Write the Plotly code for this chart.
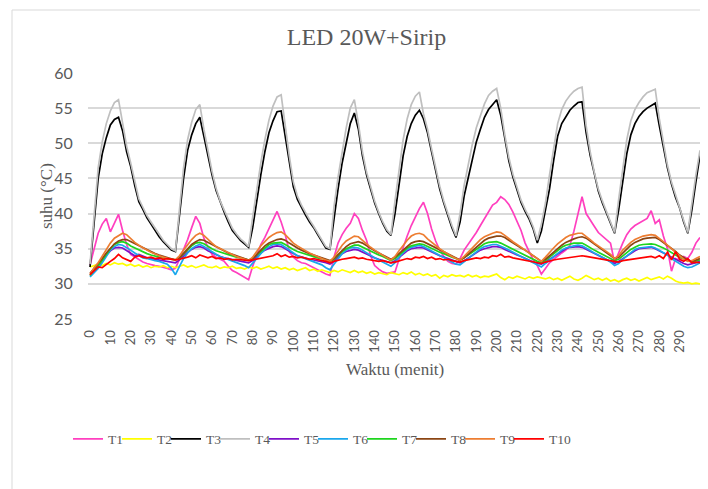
import plotly.graph_objects as go

minutes = list(range(0, 301, 2))
tick_vals = list(range(0, 291, 10))
tick_text = [str(v) for v in tick_vals]
series_names = ["T1", "T2", "T3", "T4", "T5", "T6", "T7", "T8", "T9", "T10"]

T1 = [32.7, 35.0, 37.2, 38.5, 39.3, 37.4, 38.6, 39.9, 37.6, 35.6,
      34.2, 33.8, 33.4, 33.1, 32.9, 32.7, 32.6, 32.5, 32.4, 32.2,
      32.0, 32.2, 33.5, 34.8, 36.3, 38.0, 39.6, 38.6, 36.5, 35.2,
      34.2, 33.8, 33.5, 33.2, 32.5, 31.9, 31.6, 31.3, 31.0, 30.6,
      32.5, 34.2, 35.6, 36.6, 37.8, 39.1, 40.3, 38.8, 37.0, 34.6,
      33.8, 33.3, 33.0, 32.9, 32.6, 32.2, 31.9, 31.6, 31.4, 31.2,
      33.8, 35.8, 37.0, 37.9, 38.6, 40.0, 39.3, 37.6, 36.2, 34.0,
      32.6, 32.1, 31.7, 31.5, 31.6, 31.7, 33.5, 35.3, 36.8, 38.3,
      39.5, 40.7, 41.6, 40.0, 37.8, 36.1, 34.8, 33.9, 33.2, 32.9,
      32.8, 33.6, 34.8, 35.6, 36.4, 37.3, 38.3, 39.3, 40.2, 41.2,
      41.6, 42.4, 42.0, 41.3, 40.2, 39.0, 37.6, 35.8, 34.5, 33.4,
      32.6, 31.4, 32.2, 33.0, 33.5, 34.0, 34.4, 34.8, 35.4, 37.5,
      40.0, 42.4, 40.0, 39.0, 38.2, 37.3, 36.8, 36.3, 35.8, 33.0,
      34.5, 35.8, 37.0, 37.8, 38.3, 38.6, 39.0, 39.3, 40.4, 38.6,
      39.1, 36.8, 35.0, 31.8, 33.6, 33.4, 33.9, 33.6, 34.5, 35.8,
      36.6]

T2 = [32.4, 32.6, 32.8, 32.6, 32.9, 32.7, 33.0, 32.8, 32.9, 32.6,
      32.8, 32.5, 32.7, 32.4, 32.6, 32.3, 32.5, 32.4, 32.6, 32.3,
      32.5, 32.3, 32.5, 32.7, 32.4, 32.6, 32.3, 32.5, 32.7, 32.4,
      32.3, 32.5, 32.2, 32.4, 32.3, 32.5, 32.2, 32.3, 32.1, 32.4,
      32.2, 32.4, 32.1, 32.3, 32.5, 32.2, 32.4, 32.1, 32.3, 32.0,
      32.2, 31.9, 32.1, 32.3, 31.9, 32.1, 31.8, 32.0, 31.8, 31.6,
      31.9, 31.7, 32.0, 31.8, 31.6, 31.9, 31.6, 31.8, 31.5, 31.7,
      31.4, 31.6, 31.5, 31.3, 31.6, 31.5, 31.3, 31.6, 31.4, 31.7,
      31.3, 31.5, 31.2, 31.4, 31.1, 31.3, 30.8, 31.2, 31.0, 31.3,
      31.1, 31.2, 31.0, 31.3, 31.0, 31.2, 30.9, 31.1, 31.0, 31.2,
      31.4, 30.9, 30.6, 31.0, 30.8, 31.1, 30.9, 30.7, 31.0, 30.8,
      31.0, 30.9, 30.7, 30.9, 30.6, 30.8, 30.5, 30.8, 31.1, 30.7,
      30.5, 30.8, 31.2, 30.9, 30.6, 30.8, 30.5, 30.8, 30.4, 30.6,
      30.3, 30.6, 30.8, 30.5, 30.7, 30.4, 30.6, 30.9, 30.6, 30.8,
      31.0, 30.7, 31.1, 30.8, 30.4, 30.2, 30.1, 30.2, 30.0, 30.1,
      30.0]

T3 = [32.4, 38.5, 45.0, 48.5, 50.8, 52.6, 53.4, 53.7, 51.8, 48.8,
      46.7, 44.0, 41.7, 40.6, 39.4, 38.5, 37.6, 36.7, 36.0, 35.4,
      34.8, 34.6, 40.0, 45.0, 49.0, 51.2, 52.8, 53.7, 51.0, 48.2,
      45.5, 43.3, 41.6, 40.2, 38.8, 37.6, 36.9, 36.2, 35.7, 35.2,
      38.0, 41.9, 45.5, 48.8, 51.5, 53.2, 54.5, 54.6, 51.0, 47.3,
      43.8, 42.0, 40.8, 39.8, 38.8, 38.0, 37.0, 36.0, 35.1, 34.9,
      39.5, 43.5, 47.2, 50.2, 52.8, 54.3, 52.0, 48.2, 45.5, 43.5,
      41.5, 40.0, 38.6, 37.5, 36.9, 40.0, 44.5, 48.2, 51.0, 52.8,
      54.0, 54.7, 53.5, 51.5, 48.8, 46.0, 43.5, 41.5, 39.6, 38.0,
      36.6, 38.8, 42.5, 45.2, 47.8, 50.2, 52.0, 53.7, 54.8, 55.5,
      56.2, 54.0, 50.5, 47.5, 45.2, 43.3, 41.6, 40.3, 39.2, 37.8,
      35.8, 37.5, 40.5, 43.5, 47.5, 51.0, 52.8, 53.8, 54.7, 55.3,
      55.8, 55.9, 51.5, 48.3, 45.5, 43.2, 41.5, 40.0, 38.5, 37.2,
      40.5, 44.5, 48.5, 51.2, 52.8, 53.8, 54.5, 55.0, 55.4, 55.7,
      52.5, 49.5, 46.5, 44.2, 42.3, 40.8, 38.8, 37.2, 40.5, 44.5,
      48.3]

T4 = [32.8, 40.0, 46.5, 50.2, 52.8, 54.6, 55.8, 56.2, 52.8, 49.6,
      47.2, 44.4, 42.1, 40.9, 39.7, 38.8, 37.9, 37.0, 36.2, 35.6,
      35.0, 34.7, 41.0, 46.5, 50.5, 53.0, 54.8, 55.5, 52.0, 48.8,
      46.0, 43.6, 41.8, 40.5, 39.1, 37.9, 37.1, 36.4, 35.9, 35.3,
      39.5, 43.5, 47.2, 50.5, 53.3, 55.3, 56.6, 56.9, 52.2, 48.2,
      44.5, 42.5, 41.2, 40.1, 39.1, 38.2, 37.2, 36.2, 35.3, 35.0,
      41.0, 45.2, 49.0, 52.2, 55.0, 56.2, 52.8, 48.8, 45.9, 43.8,
      41.8, 40.2, 38.8, 37.7, 37.0, 41.8, 46.5, 50.5, 53.5, 55.5,
      56.7, 57.3, 54.2, 52.0, 49.2, 46.4, 43.9, 41.8, 39.9, 38.3,
      36.8, 40.0, 44.0, 47.0, 49.8, 52.2, 54.0, 55.6, 56.8, 57.4,
      57.8, 55.0, 51.2, 48.0, 45.6, 43.6, 41.9, 40.6, 39.5, 38.1,
      36.2, 38.5, 41.5, 45.5, 49.5, 52.8, 54.8, 56.0, 56.8, 57.4,
      57.8, 58.0, 52.5, 48.8, 45.9, 43.5, 41.8, 40.2, 38.7, 37.3,
      42.0, 46.5, 50.5, 53.2, 54.8, 55.8, 56.6, 57.2, 57.5, 57.7,
      53.5, 50.0, 46.9, 44.5, 42.6, 41.0, 39.0, 37.3, 41.5, 45.5,
      49.0]

T5 = [31.2, 31.9, 32.5, 33.3, 34.1, 34.7, 35.1, 35.2, 35.1, 34.7,
      34.3, 34.0, 34.2, 33.9, 33.7, 33.6, 33.5, 33.4, 33.3, 33.2,
      33.1, 33.0, 33.4, 34.0, 34.5, 34.9, 35.2, 35.3, 35.1, 34.7,
      34.4, 34.1, 33.9, 33.7, 33.6, 33.5, 33.4, 33.3, 33.1, 33.0,
      33.3, 33.9, 34.4, 34.8, 35.1, 35.3, 35.4, 35.3, 35.0, 34.6,
      34.3, 34.0, 33.8, 33.6, 33.5, 33.4, 33.3, 33.1, 33.0, 32.8,
      33.2, 33.8, 34.3, 34.6, 34.8, 34.9, 34.8, 34.5, 34.2, 33.9,
      33.7, 33.5, 33.3, 33.1, 33.0, 33.3, 33.8, 34.3, 34.7, 35.0,
      35.1, 35.2, 35.1, 34.8, 34.5, 34.2, 34.0, 33.8, 33.6, 33.4,
      33.2, 33.0, 33.3, 33.7, 34.1, 34.5, 34.8, 35.0, 35.2, 35.3,
      35.3, 35.2, 34.9, 34.6, 34.3, 34.1, 33.9, 33.6, 33.4, 33.1,
      32.9, 32.8, 33.1, 33.5, 33.9, 34.3, 34.7, 35.0, 35.2, 35.3,
      35.3, 35.2, 34.9, 34.6, 34.3, 34.0, 33.7, 33.5, 33.2, 32.9,
      33.2, 33.6, 34.0, 34.4, 34.7, 35.0, 35.1, 35.2, 35.2, 35.0,
      34.7, 34.4, 34.0, 33.7, 33.4, 33.1, 32.9, 32.7, 32.8, 33.0,
      33.2]

T6 = [31.0, 31.6, 32.2, 33.0, 34.0, 34.8, 35.3, 35.6, 35.5, 35.2,
      34.8, 34.4, 34.1, 33.7, 33.6, 33.4, 33.3, 33.2, 33.0, 32.8,
      32.2, 31.3, 32.5, 33.6, 34.4, 35.0, 35.4, 35.6, 35.3, 34.9,
      34.5, 34.2, 33.9, 33.7, 33.5, 33.3, 33.1, 32.9, 32.6, 32.3,
      32.9, 33.6, 34.3, 34.9, 35.3, 35.6, 35.7, 35.6, 35.2, 34.8,
      34.4, 34.0, 33.8, 33.6, 33.4, 33.2, 32.9, 32.7, 32.3, 32.0,
      32.8, 33.6, 34.3, 34.8, 35.1, 35.2, 35.1, 34.8, 34.4, 34.0,
      33.7, 33.4, 33.1, 32.8, 32.5, 33.0, 33.8, 34.4, 34.9, 35.2,
      35.4, 35.5, 35.3, 35.0, 34.6, 34.3, 34.0, 33.7, 33.4, 33.1,
      32.8, 32.7, 33.1, 33.6, 34.1, 34.6, 35.0, 35.3, 35.5, 35.6,
      35.6, 35.4, 35.1, 34.8, 34.5, 34.2, 33.9, 33.6, 33.3, 33.0,
      32.6, 32.4, 32.9, 33.4, 33.9, 34.4, 34.8, 35.1, 35.3, 35.4,
      35.5, 35.4, 35.1, 34.7, 34.4, 34.1, 33.8, 33.5, 33.1, 32.6,
      32.9, 33.5, 34.0, 34.5, 34.9, 35.1, 35.2, 35.3, 35.3, 35.1,
      34.8, 34.5, 34.1, 33.6, 33.2, 32.8, 32.5, 32.3, 32.4, 32.7,
      33.0]

T7 = [31.2, 32.0, 32.6, 33.4, 34.3, 35.0, 35.6, 35.9, 36.0, 35.8,
      35.4, 35.1, 34.8, 34.5, 34.3, 34.1, 33.9, 33.8, 33.7, 33.6,
      33.5, 33.4, 33.7, 34.3, 34.9, 35.4, 35.8, 35.9, 35.7, 35.3,
      35.0, 34.7, 34.5, 34.3, 34.1, 33.9, 33.8, 33.7, 33.6, 33.4,
      33.6, 34.1, 34.7, 35.2, 35.6, 35.8, 35.9, 35.9, 35.6, 35.2,
      34.9, 34.6, 34.4, 34.2, 34.0, 33.9, 33.7, 33.6, 33.4, 33.2,
      33.5, 34.1, 34.6, 35.0, 35.3, 35.5, 35.5, 35.2, 34.9, 34.6,
      34.3, 34.1, 33.9, 33.6, 33.3, 33.6, 34.1, 34.7, 35.1, 35.4,
      35.6, 35.7, 35.6, 35.3, 35.0, 34.7, 34.5, 34.3, 34.0, 33.8,
      33.6, 33.4, 33.7, 34.1, 34.6, 35.0, 35.4, 35.7, 35.9, 36.0,
      36.0, 35.8, 35.5, 35.2, 34.9, 34.6, 34.3, 34.0, 33.8, 33.5,
      33.2, 33.0, 33.3, 33.8, 34.3, 34.8, 35.2, 35.5, 35.7, 35.8,
      35.8, 35.8, 35.5, 35.1, 34.8, 34.5, 34.2, 33.9, 33.6, 33.3,
      33.5, 34.0, 34.5, 34.9, 35.2, 35.5, 35.6, 35.7, 35.7, 35.6,
      35.4, 35.1, 34.8, 34.4, 34.1, 33.8, 33.5, 33.3, 33.1, 33.2,
      33.4]

T8 = [31.5, 32.2, 32.8, 33.6, 34.4, 35.1, 35.7, 36.1, 36.3, 36.3,
      36.0, 35.7, 35.4, 35.1, 34.8, 34.5, 34.3, 34.1, 33.9, 33.7,
      33.5, 33.4, 33.7, 34.3, 35.0, 35.6, 36.0, 36.3, 36.2, 35.9,
      35.5, 35.2, 34.9, 34.6, 34.4, 34.2, 34.0, 33.8, 33.6, 33.4,
      33.6, 34.2, 34.9, 35.4, 35.8, 36.1, 36.3, 36.4, 36.2, 35.8,
      35.4, 35.1, 34.8, 34.5, 34.3, 34.1, 33.9, 33.7, 33.5, 33.3,
      33.6, 34.2, 34.8, 35.3, 35.7, 35.9, 36.0, 35.8, 35.4, 35.0,
      34.7, 34.4, 34.1, 33.8, 33.5, 33.8, 34.3, 34.9, 35.4, 35.8,
      36.0, 36.1, 36.0, 35.7, 35.4, 35.1, 34.8, 34.5, 34.2, 33.9,
      33.6, 33.4, 33.7, 34.2, 34.8, 35.3, 35.8, 36.2, 36.5, 36.7,
      36.8, 36.8, 36.6, 36.2, 35.8, 35.5, 35.1, 34.8, 34.4, 34.0,
      33.6, 33.2, 33.5, 34.0, 34.6, 35.1, 35.5, 35.9, 36.2, 36.4,
      36.6, 36.7, 36.5, 36.1, 35.7, 35.3, 34.9, 34.5, 34.1, 33.6,
      33.8, 34.4, 35.0, 35.5, 35.9, 36.2, 36.4, 36.5, 36.6, 36.6,
      36.3, 35.9, 35.5, 35.0, 34.6, 34.1, 33.7, 33.4, 33.2, 33.4,
      33.6]

T9 = [31.3, 32.3, 33.0, 34.0, 35.0, 35.8, 36.5, 36.9, 37.2, 37.0,
      36.4, 35.9, 35.5, 35.1, 34.8, 34.5, 34.2, 34.0, 33.8, 33.6,
      33.5, 33.4, 34.0, 34.8, 35.6, 36.3, 36.9, 37.2, 36.9, 36.3,
      35.8, 35.3, 35.0, 34.7, 34.4, 34.1, 33.9, 33.7, 33.5, 33.3,
      33.8, 34.6, 35.4, 36.0, 36.6, 37.0, 37.3, 37.4, 37.0, 36.4,
      35.8, 35.4, 35.0, 34.7, 34.4, 34.1, 33.8, 33.6, 33.4, 33.2,
      33.8, 34.7, 35.5, 36.1, 36.5, 36.8, 36.7, 36.2, 35.6, 35.2,
      34.8, 34.4, 34.0, 33.7, 33.4, 33.9, 34.7, 35.5, 36.2, 36.8,
      37.1, 37.2, 37.0, 36.4, 35.9, 35.4, 35.0, 34.6, 34.2, 33.9,
      33.6, 33.4, 33.9, 34.5, 35.2, 35.8, 36.3, 36.7, 37.0, 37.2,
      37.4, 37.3, 36.9, 36.4, 36.0, 35.6, 35.2, 34.8, 34.4, 34.0,
      33.5, 33.2, 33.8, 34.5, 35.1, 35.7, 36.2, 36.6, 36.9, 37.1,
      37.2, 37.2, 36.8, 36.3, 35.8, 35.4, 35.0, 34.6, 34.2, 33.6,
      34.0, 34.8, 35.4, 35.9, 36.3, 36.6, 36.8, 36.9, 37.0, 36.9,
      36.5, 36.0, 35.5, 35.0, 34.5, 34.0, 33.5, 33.2, 33.3, 33.6,
      33.9]

T10 = [31.3, 31.9, 32.4, 32.3, 32.8, 33.2, 33.6, 34.2, 33.7, 33.4,
       33.2, 33.8, 34.0, 33.8, 33.7, 33.8, 33.6, 33.7, 33.5, 33.6,
       33.5, 33.4, 33.5, 33.6, 33.8, 34.0, 33.7, 34.1, 33.9, 33.7,
       33.9, 33.6, 33.7, 33.5, 33.6, 33.4, 33.5, 33.4, 33.3, 33.3,
       33.4, 33.5, 33.7, 33.8, 33.9, 34.0, 34.3, 33.9, 34.1, 33.8,
       33.9, 33.7, 33.8, 33.6, 33.5, 33.6, 33.4, 33.3, 33.2, 33.0,
       33.2, 33.4, 33.5, 33.6, 33.7, 33.8, 33.6, 33.7, 33.5, 33.4,
       33.3, 33.2, 33.3, 33.1, 33.0, 33.1, 33.3, 33.4, 33.6, 33.5,
       33.8, 33.7, 33.9, 33.6, 33.8, 33.5, 33.6, 33.4, 33.5, 33.3,
       33.2, 33.1, 33.3, 33.4, 33.5, 33.7, 33.6, 33.8, 33.7, 34.0,
       33.9, 34.2, 33.8, 33.9, 33.7, 33.6, 33.5, 33.4, 33.3, 33.2,
       33.0, 32.9, 33.1, 33.3, 33.4, 33.5, 33.6, 33.7, 33.8, 33.9,
       33.9, 34.0, 33.9, 33.8, 33.7, 33.6, 33.5, 33.4, 33.3, 33.2,
       33.1, 33.3, 33.4, 33.5, 33.6, 33.7, 33.8, 33.8, 33.9, 33.7,
       34.0, 33.6, 34.5, 33.4, 34.6, 33.5, 33.2, 33.6, 33.0, 33.1,
       33.0]

series_values = [T1, T2, T3, T4, T5, T6, T7, T8, T9, T10]
colors = ["#FF3FBF", "#FFFF00", "#000000", "#BFBFBF", "#7F10C8",
          "#1AA7EC", "#1ED51E", "#8B4513", "#ED7D31", "#FF0000"]

fig = go.Figure()
for name, vals, col in zip(series_names, series_values, colors):
    fig.add_trace(go.Scatter(x=minutes, y=vals, mode="lines", name=name,
                             line=dict(color=col, width=1.7)))

# empty, invisible legend slot so the last legend label ("T10") is not clipped
fig.add_trace(go.Scatter(x=[None], y=[None], mode="lines", name=" ", hoverinfo="skip",
                         line=dict(color="rgba(0,0,0,0)", width=0)))

serif = "Liberation Serif, Times New Roman, serif"
sans = "Lato, Liberation Sans, sans-serif"
gray = "#595959"

# the page body adds an 8 px margin, so the figure starts 8 px in from the window edge
OFF = 8
W, H = 708 - OFF, 489 - OFF
L, R, T, B = 88 - OFF, 702 - OFF, 73 - OFF, 319 - OFF
pw, ph = R - L, B - T


def px_x(p):
    return (p - OFF - L) / pw


def px_y(p):
    return (B - (p - OFF)) / ph


fig.update_layout(
    width=W, height=H,
    margin=dict(l=L, r=W - R, t=T, b=H - B, autoexpand=False),
    paper_bgcolor="white", plot_bgcolor="white",
    title=dict(text="LED 20W+Sirip", x=(366.5 - OFF) / W, xref="container", xanchor="center",
               y=1 - (37 - OFF) / H, yref="container", yanchor="middle",
               font=dict(family=serif, size=24, color=gray)),
    showlegend=True,
    legend=dict(orientation="h", x=px_x(68), xanchor="left", y=px_y(439), yanchor="middle",
                font=dict(family=serif, size=13.5, color=gray),
                entrywidth=4, entrywidthmode="pixels", bgcolor="rgba(0,0,0,0)",
                tracegroupgap=0),
    xaxis=dict(range=[-1, 301], tickmode="array", tickvals=tick_vals, ticktext=tick_text,
               tickangle=-90, showgrid=False, zeroline=False, showline=False,
               ticks="outside", ticklen=5, tickcolor="rgba(0,0,0,0)",
               tickfont=dict(family=sans, size=13, color=gray)),
    yaxis=dict(range=[25, 60], tickmode="array", tickvals=[25, 30, 35, 40, 45, 50, 55, 60],
               showgrid=True, gridcolor="#D9D9D9", gridwidth=1.5, zeroline=False,
               showline=False, ticks="outside", ticklen=11, tickcolor="rgba(0,0,0,0)",
               tickfont=dict(family=sans, size=16, color=gray)),
    annotations=[
        dict(text="suhu (°C)", textangle=-90, x=px_x(46), y=px_y(196), xref="paper", yref="paper",
             xanchor="center", yanchor="middle", showarrow=False,
             font=dict(family=serif, size=17, color=gray)),
        dict(text="Waktu (menit)", x=px_x(395), y=px_y(369), xref="paper", yref="paper",
             xanchor="center", yanchor="middle", showarrow=False,
             font=dict(family=serif, size=17, color=gray)),
    ],
    shapes=[
        dict(type="line", xref="paper", yref="paper", x0=px_x(12), x1=px_x(720),
             y0=px_y(10), y1=px_y(10), line=dict(color="#D9D9D9", width=1)),
        dict(type="line", xref="paper", yref="paper", x0=px_x(12), x1=px_x(12),
             y0=px_y(10), y1=px_y(495), line=dict(color="#D9D9D9", width=1)),
    ],
)

fig.write_html("out.html")
